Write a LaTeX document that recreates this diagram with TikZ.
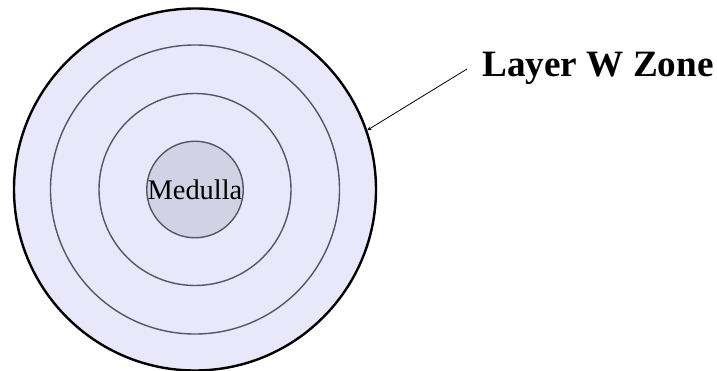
\documentclass[tikz,border=0pt]{standalone}
\usepackage{fontspec}
\setmainfont{Liberation Serif}
\definecolor{ringfill}{RGB}{232,232,250}
\definecolor{medfill}{RGB}{210,210,228}
\definecolor{ringline}{RGB}{85,85,105}
\begin{document}
\begin{tikzpicture}[x=1pt,y=-1pt,
  ring/.style={circle,draw=ringline,line width=1.4pt,inner sep=0pt},
  outerring/.style={circle,draw=black,line width=2.4pt,fill=ringfill,inner sep=0pt},
  lbl/.style={font=\bfseries\fontsize{37.2}{40}\selectfont,inner sep=0pt}]
\useasboundingbox (0,0) rectangle (717,371);
\node[outerring,minimum size=362pt] (outer) at (195,189.5) {};
\node[ring,minimum size=289pt] (r1) at (195,189.5) {};
\node[ring,fill=medfill,minimum size=192pt,fill=none] (r2) at (195,189.5) {};
\node[ring,fill=medfill,minimum size=96pt,font=\fontsize{28.4}{30}\selectfont] (med) at (195,189.5) {Medulla};
\node[lbl,anchor=base west] (zone) at (482,77) {Layer W Zone};
\coordinate (lstart) at (467,69);
\draw[->,line width=0.8pt,>={stealth}] (lstart) -- (outer.19.6);
\end{tikzpicture}
\end{document}
